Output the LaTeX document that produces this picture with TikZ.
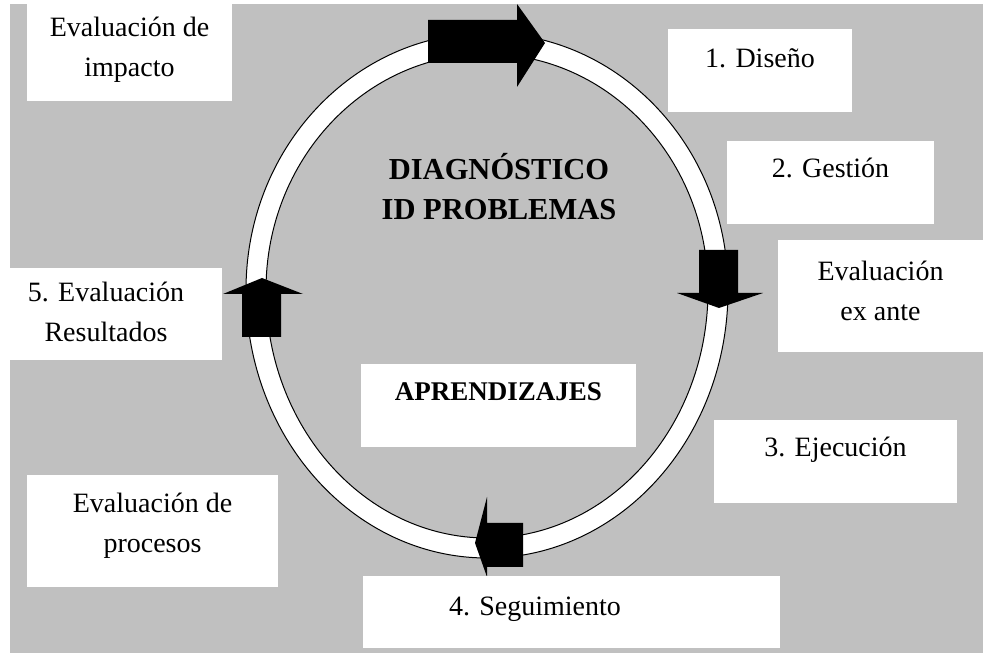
\documentclass[tikz,border=0pt]{standalone}
\usepackage{fontspec}
\setmainfont{Liberation Serif}
\usetikzlibrary{positioning}
\definecolor{fondo}{RGB}{192,192,192}

\begin{document}
\begin{tikzpicture}[x=1pt,y=1pt,
    caja/.style={fill=white,inner sep=0pt,outer sep=0pt},
    texto/.style={align=center,inner sep=0pt,font=\fontsize{28}{39.5}\selectfont},
    titulo/.style={texto,font=\fontsize{30.5}{40}\selectfont\bfseries},
    flecha/.style={fill=black}]
\useasboundingbox (0,0) rectangle (983,653);
\fill[white] (0,0) rectangle (983,653);
\fill[fondo] (10,0) rectangle (983,649);

\draw[fill=white,even odd rule,line width=1pt]
    (728,363) arc[start angle=0,end angle=180,x radius=241,y radius=257]
    arc[start angle=180,end angle=360,x radius=241,y radius=268] -- cycle
    (708,363) arc[start angle=0,end angle=180,x radius=221,y radius=236]
    arc[start angle=180,end angle=360,x radius=221,y radius=248] -- cycle;

\fill[flecha] (428,633) -- (517,633) -- (517,649) -- (545,610) -- (517,566) -- (517,590) -- (428,590) -- cycle;
\fill[flecha] (699,403) -- (738,403) -- (738,360) -- (763,360) -- (719,345) -- (677,360) -- (699,360) -- cycle;
\fill[flecha] (242,316) -- (281,316) -- (281,359) -- (303,359) -- (262,375) -- (223,359) -- (242,359) -- cycle;
\fill[flecha] (523,130) -- (523,86) -- (487,86) -- (487,76) -- (475,110) -- (487,156) -- (487,130) -- cycle;

\node[caja,minimum width=205,minimum height=101] (impacto) at (129.5,602.5) {};
\node[texto,below=17pt of impacto.north] (t-impacto) {Evaluación de\\impacto};
\node[caja,minimum width=184,minimum height=83] (diseno) at (760,582.5) {};
\node[texto,below=19pt of diseno.north] (t-diseno) {1. Diseño};
\node[caja,minimum width=207,minimum height=83] (gestion) at (830.5,470.5) {};
\node[texto,below=17pt of gestion.north] (t-gestion) {2. Gestión};
\node[caja,minimum width=205,minimum height=112] (exante) at (880.5,357) {};
\node[texto,below=21pt of exante.north] (t-exante) {Evaluación\\ex ante};
\node[caja,minimum width=243,minimum height=83] (ejecucion) at (835.5,191.5) {};
\node[texto,below=17pt of ejecucion.north] (t-ejecucion) {3. Ejecución};
\node[caja,minimum width=417,minimum height=72] (seguimiento) at (571.5,41) {};
\node[texto,below=21pt of seguimiento.north,xshift=-36.5pt] (t-seguimiento) {4. Seguimiento};
\node[caja,minimum width=251,minimum height=112] (procesos) at (152.5,122) {};
\node[texto,below=18pt of procesos.north] (t-procesos) {Evaluación de\\procesos};
\node[caja,minimum width=222,minimum height=92] (resultados) at (111,339) {};
\node[texto,below=14pt of resultados.north,xshift=-5pt] (t-resultados) {5. Evaluación\\Resultados};
\node[caja,minimum width=275,minimum height=83] (aprendizajes) at (498.5,247.5) {};
\node[titulo,font=\fontsize{27}{40}\selectfont\bfseries,below=18pt of aprendizajes.north] (t-aprendizajes) {APRENDIZAJES};

\node[titulo,anchor=north] (diagnostico) at (499,500) {DIAGNÓSTICO\\ID PROBLEMAS};
\end{tikzpicture}
\end{document}
